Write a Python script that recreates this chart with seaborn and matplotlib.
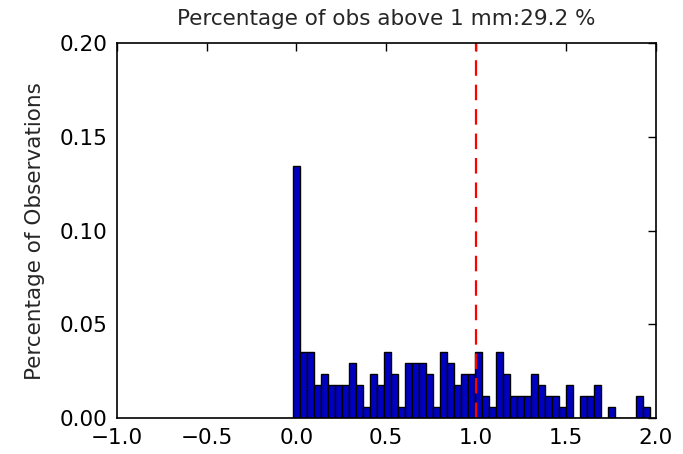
import numpy as np
import pandas as pd
import matplotlib
matplotlib.use("Agg")
import matplotlib.pyplot as plt
import seaborn as sns

# Histogram bins (mm) and number of observations falling in each bin
bin_start = -0.019
bin_width = 0.039
counts = [23, 6, 6, 3, 4, 3, 3, 3, 5, 3,
          1, 4, 3, 6, 4, 1, 5, 5, 5, 4,
          1, 6, 5, 3, 4, 4, 6, 2, 1, 6,
          4, 2, 2, 2, 4, 3, 2, 2, 1, 3,
          0, 2, 2, 3, 0, 1, 0, 0, 0, 2,
          1]
threshold = 1.0
pct_above = 29.2

x_ticks = [-1.0, -0.5, 0.0, 0.5, 1.0, 1.5, 2.0]
y_ticks = [0.00, 0.05, 0.10, 0.15, 0.20]

n_bins = len(counts)
bin_end = bin_start + bin_width * n_bins
centers = bin_start + bin_width * (np.arange(n_bins) + 0.5)
total = sum(counts)
df = pd.DataFrame({"value": centers, "frac": np.array(counts) / total})

FS = 15.5

sns.set_style("white")
plt.rcParams.update({
    "font.family": ["DejaVu Sans"],
    "font.size": FS,
    "xtick.direction": "in",
    "ytick.direction": "in",
    "xtick.top": True,
    "ytick.right": True,
    "xtick.major.size": 5.5,
    "ytick.major.size": 5.5,
    "xtick.color": "black",
    "ytick.color": "black",
})

fig = plt.figure(figsize=(6.83, 4.54), dpi=100)
ax = fig.add_axes([0.171, 0.079, 0.789, 0.826])

sns.histplot(data=df, x="value", weights="frac", bins=n_bins,
             binrange=(bin_start, bin_end), stat="count",
             color="#0000c0", edgecolor="black", linewidth=1.0, alpha=1.0, ax=ax)

ax.axvline(threshold, color="red", linestyle=(0, (7, 4)), linewidth=1.6)

ax.set_xlim(-1.0, 2.0)
ax.set_ylim(0.0, 0.2)
ax.set_xticks(x_ticks)
ax.set_yticks(y_ticks)
ax.set_xticklabels([f"{t:.1f}".replace("-", "\u2212") for t in x_ticks], fontsize=FS)
ax.set_yticklabels([f"{t:.2f}" for t in y_ticks], fontsize=FS)
ax.tick_params(axis="both", which="major", pad=7, width=1)
ax.set_xlabel("")
ax.set_ylabel("Percentage of Observations", fontsize=FS, labelpad=10)
ax.set_title(f"Percentage of obs above 1 mm:{pct_above} %", fontsize=FS, pad=13)

for s in ax.spines.values():
    s.set_color("black")
    s.set_linewidth(1.2)
    s.set_visible(True)

fig.savefig("out.png", dpi=100)
